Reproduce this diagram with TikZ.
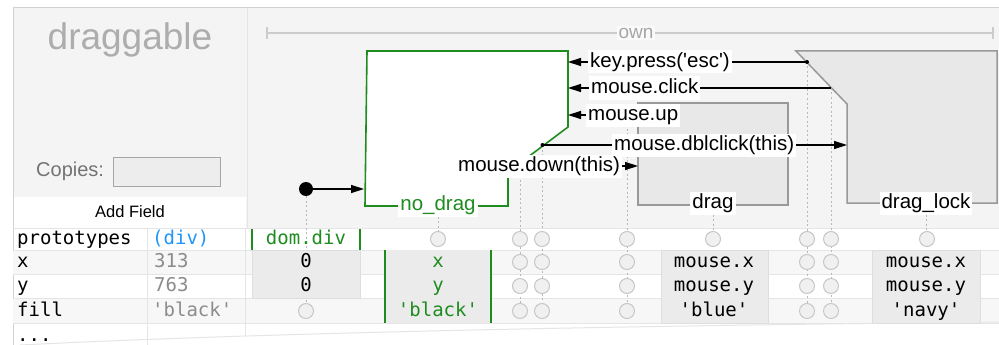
\documentclass[tikz,border=0pt]{standalone}
\usepackage{fontspec}
\setmainfont{Liberation Sans}
\newfontfamily\monof{DejaVu Sans Mono}
\usetikzlibrary{arrows.meta}
\definecolor{bg}{HTML}{F4F4F4}
\definecolor{grn}{RGB}{30,140,30}
\definecolor{blu}{RGB}{30,150,250}
\begin{document}
\begin{tikzpicture}[x=1pt,y=-1pt,
  lbl/.style={fill=white, inner xsep=2pt, inner ysep=2pt, text height=14.5pt, text depth=4.5pt, font=\fontsize{20.5}{22}\selectfont},
  tr/.style={line width=1.4pt, -{Triangle[length=13pt,width=8pt]}},
  dots/.style={draw=black!28, line width=1pt, dash pattern=on 2pt off 2.5pt},
  slot/.style={circle, minimum size=15pt, inner sep=0pt, fill=black!6, draw=black!22, line width=1pt},
  mono/.style={font=\monof\fontsize{19}{20}\selectfont, inner sep=1pt, text height=14pt, text depth=4pt},
  cellbox/.style={fill=black!8, draw=black!13, line width=1pt},
  stbox/.style={fill=black!9, draw=black!40, line width=1.5pt},
  gbar/.style={draw=grn, line width=2pt},
]
\useasboundingbox (0,0) rectangle (999,345);
\fill[white] (0,0) rectangle (999,345);
% backgrounds
\fill[bg] (13,8) rectangle (999,228);
\fill[white] (13,197) rectangle (246,228);
\draw[black!18, line width=1.5pt] (13,7.5) -- (999,7.5);
\draw[black!18, line width=1pt] (13,7) -- (13,345);
\draw[black!10, line width=1pt] (247,8) -- (247,228);
% table rows
\fill[black!3] (13,250) rectangle (999,274);
\fill[black!3] (13,298) rectangle (999,323);
\foreach \yy in {228,250,274,298,323} \draw[black!10, line width=1pt] (13,\yy) -- (999,\yy);
\draw[black!10, line width=1pt] (147,228) -- (147,345);
\draw[black!10, line width=1pt] (245,228) -- (245,336);
\draw[black!10, line width=1pt] (20,345) .. controls (300,331) and (700,325) .. (999,322);

% left panel
\node[text=black!32, font=\fontsize{37}{40}\selectfont] (title) at (130,40) {draggable};
\node[text=black!55, font=\fontsize{20}{22}\selectfont, anchor=west, inner sep=0pt] (copies) at (36,171) {Copies:};
\node[draw=black!35, fill=black!7, line width=1pt, minimum width=107pt, minimum height=29pt, inner sep=0pt] (copiesbox) at (166.5,171.5) {};
\node[font=\fontsize{16.5}{18}\selectfont] (addfield) at (130,212) {Add Field};

% own bar
\coordinate (ownL) at (267,33);
\coordinate (ownR) at (993,33);
\draw[black!20, line width=1.5pt] (ownL) -- (ownR);
\draw[black!20, line width=1.5pt] ([yshift=-6pt]ownL) -- ([yshift=6pt]ownL);
\draw[black!20, line width=1.5pt] ([yshift=-6pt]ownR) -- ([yshift=6pt]ownR);
\node[fill=bg!50!white, text=black!35, inner sep=2pt, font=\fontsize{19}{20}\selectfont] (own) at (636,33) {own};

% states
\draw[stbox] (796,51) -- (997,51) -- (997,203) -- (847,203) -- (847,104) -- cycle;
\draw[stbox] (638,103) rectangle (788,205);
\draw[grn, fill=white, line width=1.6pt] (367,51) -- (568,51) -- (568,127) -- (508,172) -- (508,206) -- (365,206) -- cycle;

% start
\node[circle, fill=black, minimum size=14pt, inner sep=0pt] (start) at (306,189) {};
\coordinate (nodragW) at (364,189);
\draw[tr] (start) -- (nodragW);

% transition end points
\coordinate (kpS) at (807,62);   \coordinate (kpT) at (568,62);
\coordinate (mcS) at (831,88);   \coordinate (mcT) at (568,88);
\coordinate (muS) at (627,115);  \coordinate (muT) at (568,115);
\coordinate (dcS) at (542.5,145);\coordinate (dcT) at (847,145);
\coordinate (mdS) at (520,166);  \coordinate (mdT) at (638,166);

% row coordinates
\coordinate (rP) at (0,239);
\coordinate (rX) at (0,262);
\coordinate (rY) at (0,286);
\coordinate (rF) at (0,311);

% dotted columns
\draw[dots] (start) -- (start |- rF);
\draw[dots] (kpS) -- (kpS |- rF);
\draw[dots] (mcS) -- (mcS |- rF);
\draw[dots] (muS) -- (muS |- rF);
\draw[dots] (dcS) -- (dcS |- rF);
\draw[dots] (mdS) -- (mdS |- rF);

% transitions
\draw[tr] (kpS) -- (kpT);
\draw[tr] (mcS) -- (mcT);
\draw[tr] (muS) -- (muT);
\draw[tr] (dcS) -- (dcT);
\draw[tr] (mdS) -- (mdT);
\fill (kpS) circle (2pt);
\fill (dcS) circle (2pt);

% transition labels
\node[lbl, anchor=west] (kp) at (588,62) {key.press(\textquotesingle esc\textquotesingle)};
\node[lbl, anchor=west] (mc) at (589,88) {mouse.click};
\node[lbl, anchor=west] (mu) at (586,115) {mouse.up};
\node[lbl, anchor=west] (dc) at (612,145) {mouse.dblclick(this)};
\node[lbl, anchor=west] (md) at (456,166) {mouse.down(this)};

% state labels
\node[lbl, text=grn] (ndlab) at (438,205) {no\_drag};
\node[lbl] (dlab) at (713,203) {drag};
\node[lbl] (dllab) at (926,203) {drag\_lock};
\draw[dots] (ndlab.south) -- (ndlab.south |- rP);
\draw[dots] (dlab.south) -- (dlab.south |- rP);
\draw[dots] (dllab.south) -- (dllab.south |- rP);

% table cells
\draw[gbar] (252,229) -- (252,250);
\draw[gbar] (360,229) -- (360,250);
\draw[cellbox] (252,250) rectangle (360,298);
\fill[black!8] (385,250) rectangle (491,323);
\draw[gbar] (385,250) -- (385,323);
\draw[gbar] (491,250) -- (491,323);
\draw[cellbox] (661,250) rectangle (768,323);
\draw[cellbox] (872,250) rectangle (980,323);

% slots
\foreach \cx in {438,520,542,627,713,807,831,927} \node[slot] at (\cx,239) {};
\foreach \cx in {520,542,627,807,831} {
  \node[slot] at (\cx,262) {};
  \node[slot] at (\cx,286) {};
  \node[slot] at (\cx,311) {};
}
\node[slot] (domfill) at (306,311) {};

% table texts
\node[mono, anchor=west] (hP) at (16,239) {prototypes};
\node[mono, anchor=west] (hX) at (16,262) {x};
\node[mono, anchor=west] (hY) at (16,286) {y};
\node[mono, anchor=west] (hF) at (16,311) {fill};
\node[mono, anchor=west] (hM) at (16,336) {...};
\node[mono, anchor=west, text=blu] (vP) at (151,239) {(div)};
\node[mono, anchor=west, text=black!45] (vX) at (153,262) {313};
\node[mono, anchor=west, text=black!45] (vY) at (153,286) {763};
\node[mono, anchor=west, text=black!45] (vF) at (151,311) {\textquotesingle black\textquotesingle};

\node[mono, text=grn] (domdiv) at (306,239) {dom.div};
\node[mono] (domx) at (306,262) {0};
\node[mono] (domy) at (306,286) {0};

\node[mono, text=grn] (ndx) at (438,262) {x};
\node[mono, text=grn] (ndy) at (438,286) {y};
\node[mono, text=grn] (ndf) at (438,311) {\textquotesingle black\textquotesingle};

\node[mono] (dx) at (714,262) {mouse.x};
\node[mono] (dy) at (714,286) {mouse.y};
\node[mono] (df) at (714,311) {\textquotesingle blue\textquotesingle};

\node[mono] (lx) at (926,262) {mouse.x};
\node[mono] (ly) at (926,286) {mouse.y};
\node[mono] (lf) at (926,311) {\textquotesingle navy\textquotesingle};
\end{tikzpicture}
\end{document}
